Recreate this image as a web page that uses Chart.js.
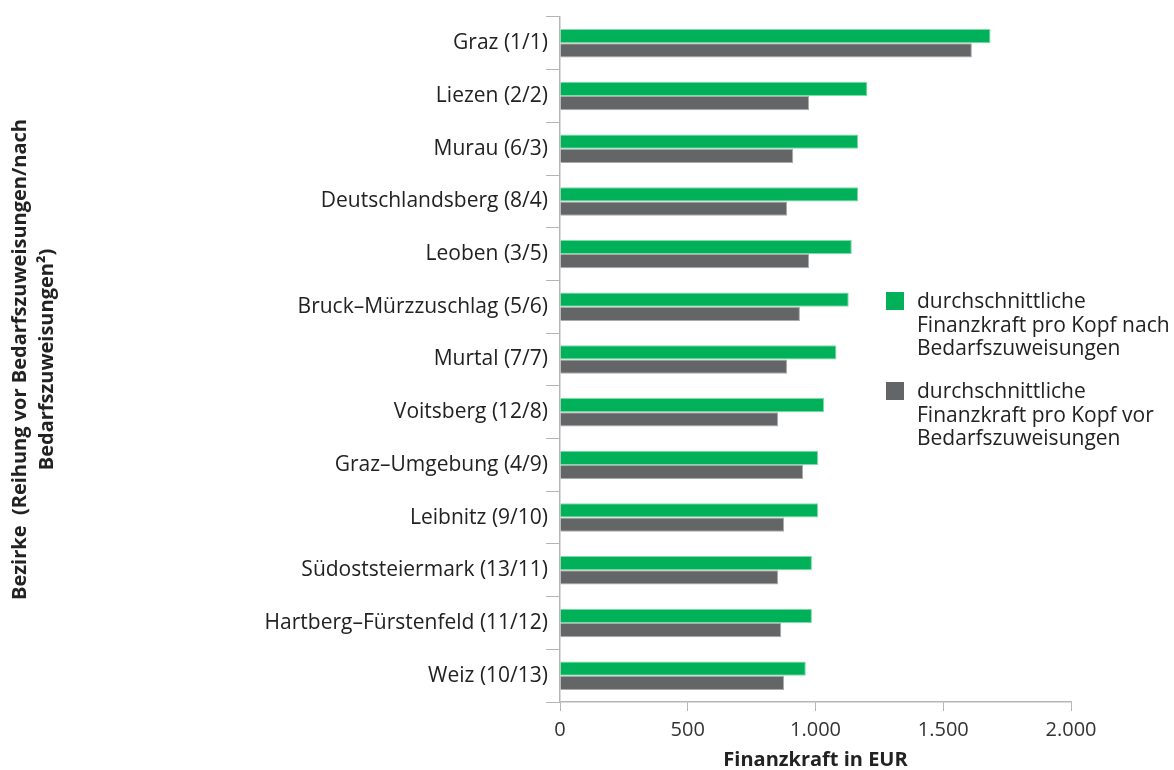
<!DOCTYPE html>
<html lang="de">
<head>
<meta charset="utf-8">
<title>Finanzkraft pro Kopf nach Bezirken</title>
<script src="https://cdn.jsdelivr.net/npm/chart.js@4.4.1/dist/chart.umd.min.js"></script>
<style>
    html, body { margin: 0; padding: 0; background: #fff; }
    #wrap { width: 1174px; height: 770px; }
</style>
</head>
<body>
<div id="wrap"><canvas id="chart" width="1174" height="770"></canvas></div>
<script>
// Bezirke with ranking (before / after Bedarfszuweisungen)
const bezirke = [
    "Graz (1/1)",
    "Liezen (2/2)",
    "Murau (6/3)",
    "Deutschlandsberg (8/4)",
    "Leoben (3/5)",
    "Bruck\u2013Mürzzuschlag (5/6)",
    "Murtal (7/7)",
    "Voitsberg (12/8)",
    "Graz\u2013Umgebung (4/9)",
    "Leibnitz (9/10)",
    "Südoststeiermark (13/11)",
    "Hartberg\u2013Fürstenfeld (11/12)",
    "Weiz (10/13)"
];

// EUR per capita
const nachBZ = [1685, 1203, 1167, 1167, 1142, 1130, 1082, 1034, 1010, 1010, 986, 986, 962];
const vorBZ = [1612, 975, 913, 889, 975, 939, 889, 854, 951, 877, 854, 866, 877];

const xTicks = [0, 500, 1000, 1500, 2000];

const labelNach = ["durchschnittliche", "Finanzkraft pro Kopf nach", "Bedarfszuweisungen"];
const labelVor = ["durchschnittliche", "Finanzkraft pro Kopf vor", "Bedarfszuweisungen"];

const GREEN = "#00b15a";
const GREY = "#646567";
const FONT = "'Open Sans', sans-serif";

const fmt = (v) => String(v).replace(/\B(?=(\d{3})+(?!\d))/g, ".");

// legend drawn beside the bars, with wrapped labels
const sideLegend = {
    id: "sideLegend",
    afterDraw(chart, args, opts) {
        const ctx = chart.ctx;
        ctx.save();
        ctx.font = "21px " + FONT;
        ctx.textBaseline = "alphabetic";
        chart.data.datasets.forEach((ds, i) => {
            const top = opts.y + i * opts.gap;
            ctx.fillStyle = ds.backgroundColor;
            ctx.fillRect(opts.x, top, 18, 18);
            ctx.fillStyle = "#222";
            ds.legendLines.forEach((line, j) => {
                ctx.fillText(line, opts.x + 31, top + 16 + j * 23.5);
            });
        });
        ctx.restore();
    }
};

new Chart(document.getElementById("chart").getContext("2d"), {
    type: "bar",
    data: {
        labels: bezirke,
        datasets: [
            {
                label: labelNach.join(" "),
                legendLines: labelNach,
                data: nachBZ,
                backgroundColor: GREEN,
                borderColor: "#7ddba6",
                borderWidth: 1,
                categoryPercentage: 0.54,
                barPercentage: 1.0
            },
            {
                label: labelVor.join(" "),
                legendLines: labelVor,
                data: vorBZ,
                backgroundColor: GREY,
                borderColor: "#a9aaac",
                borderWidth: 1,
                categoryPercentage: 0.54,
                barPercentage: 1.0
            }
        ]
    },
    options: {
        indexAxis: "y",
        responsive: false,
        animation: false,
        devicePixelRatio: 1,
        layout: { padding: { top: 17, right: 103, bottom: 0, left: 7 } },
        plugins: {
            legend: { display: false },
            tooltip: { enabled: false },
            sideLegend: { x: 886, y: 292, gap: 90 }
        },
        scales: {
            x: {
                min: 0,
                max: 2000,
                afterBuildTicks: (axis) => { axis.ticks = xTicks.map((v) => ({ value: v })); },
                grid: { drawOnChartArea: false, drawTicks: true, tickLength: 9, color: "#b5b5b5" },
                border: { color: "#b5b5b5", width: 1.5 },
                ticks: {
                    callback: (v) => fmt(v),
                    color: "#333",
                    font: { family: FONT, size: 20 },
                    padding: 7
                },
                title: {
                    display: true,
                    text: "Finanzkraft in EUR",
                    color: "#222",
                    font: { family: FONT, size: 20, weight: "bold", lineHeight: 1.0 },
                    padding: { top: 1, bottom: 0 }
                }
            },
            y: {
                // wide label column, bars start well right of the names
                afterFit: (axis) => { axis.width = 553; },
                grid: { drawOnChartArea: false, drawTicks: true, tickLength: 14, color: "#b5b5b5", offset: true },
                border: { color: "#b5b5b5", width: 1.5 },
                ticks: {
                    color: "#222",
                    font: { family: FONT, size: 21 },
                    padding: -2
                },
                title: {
                    display: true,
                    text: ["Bezirke  (Reihung vor Bedarfszuweisungen/nach", "Bedarfszuweisungen\u00b2)"],
                    color: "#222",
                    font: { family: FONT, size: 20, weight: "bold", lineHeight: 1.35 },
                    padding: { top: 0, bottom: 0 }
                }
            }
        }
    },
    plugins: [sideLegend]
});
</script>
</body>
</html>
